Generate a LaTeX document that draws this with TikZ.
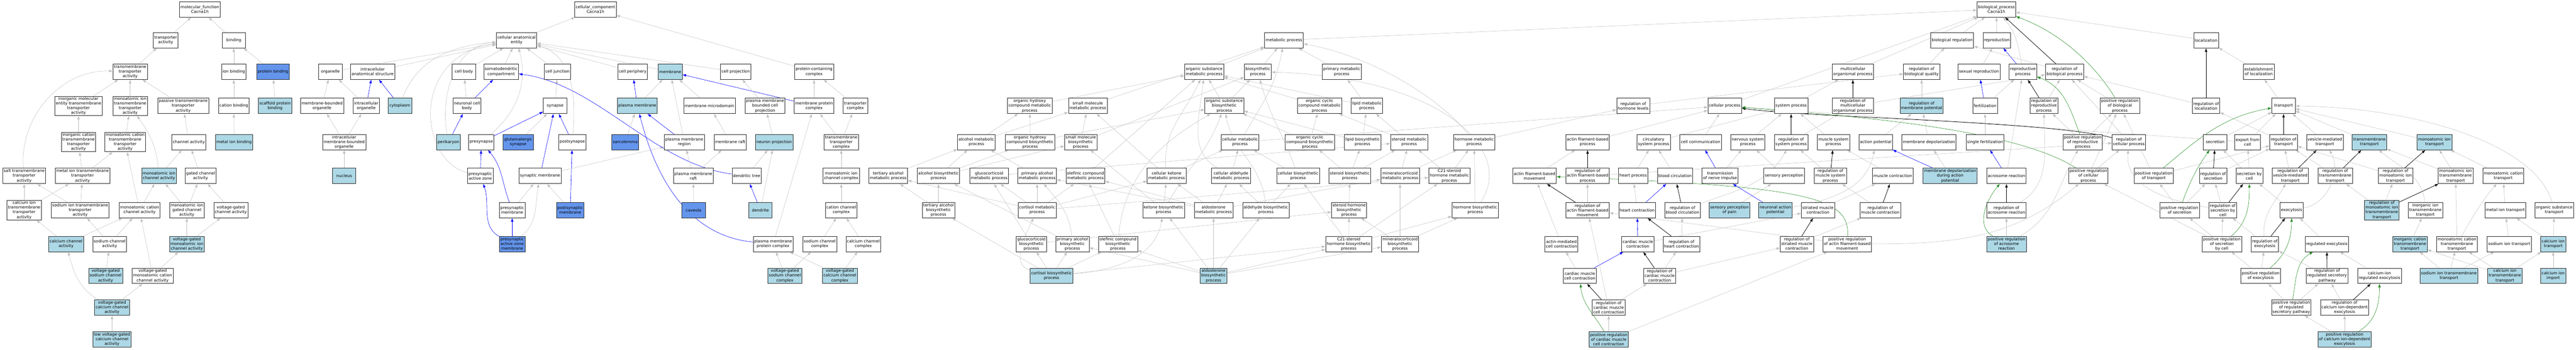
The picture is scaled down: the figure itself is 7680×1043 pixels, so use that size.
\documentclass[tikz,border=0pt]{standalone}
\usepackage{fontspec}
\setmainfont{DejaVu Sans}
\usepackage{tikz}
\usetikzlibrary{arrows.meta,backgrounds}
\definecolor{hitblue}{rgb}{0.678, 0.847, 0.902}
\definecolor{seedblue}{rgb}{0.392, 0.584, 0.929}
\definecolor{isagray}{rgb}{0.75, 0.75, 0.75}
\definecolor{posgreen}{rgb}{0.133, 0.545, 0.133}
\tikzstyle{term}=[draw=black!85, line width=1pt, rectangle, fill=white, align=center, font=\fontsize{12}{14}\selectfont, minimum width=70pt, minimum height=46pt, inner xsep=3pt, inner ysep=2pt]
\tikzstyle{hit}=[term, fill=hitblue]
\tikzstyle{seed}=[term, fill=seedblue]
\tikzstyle{isa}=[isagray, line width=0.8pt, -{Latex[length=11pt,width=8pt]}]
\tikzstyle{partof}=[blue, line width=0.9pt, -{Latex[length=11pt,width=8pt]}]
\tikzstyle{regs}=[black, line width=1.2pt, -{Latex[length=11pt,width=8pt]}]
\tikzstyle{posreg}=[posgreen, line width=0.9pt, -{Latex[length=11pt,width=8pt]}]
\begin{document}
\begin{tikzpicture}[x=1pt,y=-1pt]
\useasboundingbox (0,0) rectangle (7680,1043);
\node[term] (mf) at (596,28) {molecular\_function\\Cacna1h};
\node[term] (tpa) at (494,120) {transporter\\activity};
\node[term] (bind) at (697,120) {binding};
\node[term] (tmta) at (388,214) {transmembrane\\transporter\\activity};
\node[term] (ionb) at (697,214) {ion binding};
\node[seed] (protb) at (814,214) {protein binding};
\node[term] (imeta) at (234,316) {inorganic molecular\\entity transmembrane\\transporter\\activity};
\node[term] (mita) at (388,316) {monoatomic ion\\transmembrane\\transporter\\activity};
\node[term] (pta) at (546,316) {passive transmembrane\\transporter\\activity};
\node[term] (catb) at (697,316) {cation binding};
\node[hit] (scafb) at (820,316) {scaffold protein\\binding};
\node[term] (icta) at (234,424) {inorganic cation\\transmembrane\\transporter\\activity};
\node[term] (mcta) at (373,424) {monoatomic cation\\transmembrane\\transporter\\activity};
\node[term] (chan) at (563,424) {channel activity};
\node[hit] (metb) at (698,424) {metal ion binding};
\node[term] (salt) at (72,525) {salt transmembrane\\transporter\\activity};
\node[term] (metta) at (246,525) {metal ion transmembrane\\transporter\\activity};
\node[hit] (mich) at (474,525) {monoatomic ion\\channel activity};
\node[term] (gated) at (598,525) {gated channel\\activity};
\node[term] (cata) at (72,627) {calcium ion\\transmembrane\\transporter\\activity};
\node[term] (sota) at (239,627) {sodium ion transmembrane\\transporter\\activity};
\node[term] (mcch) at (416,627) {monoatomic cation\\channel activity};
\node[term] (migch) at (557,627) {monoatomic ion\\gated channel\\activity};
\node[term] (vgch) at (688,627) {voltage-gated\\channel activity};
\node[hit] (cach) at (197,728) {calcium channel\\activity};
\node[term] (soch) at (327,728) {sodium channel\\activity};
\node[hit] (vgmich) at (557,728) {voltage-gated\\monoatomic ion\\channel activity};
\node[hit] (vgsoch) at (315,823) {voltage-gated\\sodium channel\\activity};
\node[term] (vgmcch) at (455,823) {voltage-gated\\monoatomic cation\\channel activity};
\node[hit] (vgcach) at (334,918) {voltage-gated\\calcium channel\\activity};
\node[hit] (lvgcach) at (334,1013) {low voltage-gated\\calcium channel\\activity};
\node[term] (cc) at (1775,28) {cellular\_component\\Cacna1h};
\node[term] (cae) at (1540,120) {cellular anatomical\\entity};
\node[term] (organelle) at (985,214) {organelle};
\node[term] (ias) at (1111,214) {intracellular\\anatomical structure};
\node[term] (cbody) at (1383,214) {cell body};
\node[term] (somato) at (1494,214) {somatodendritic\\compartment};
\node[term] (cjunc) at (1662,214) {cell junction};
\node[term] (cperi) at (1886,214) {cell periphery};
\node[hit] (memb) at (1998,214) {membrane};
\node[term] (cproj) at (2193,214) {cell projection};
\node[term] (pcc) at (2427,214) {protein-containing\\complex};
\node[term] (mbo) at (960,316) {membrane-bounded\\organelle};
\node[term] (iorg) at (1092,316) {intracellular\\organelle};
\node[hit] (cyto) at (1192,316) {cytoplasm};
\node[term] (ncb) at (1392,316) {neuronal cell\\body};
\node[term] (syn) at (1655,316) {synapse};
\node[hit] (pm) at (1900,316) {plasma membrane};
\node[term] (mmd) at (2115,316) {membrane microdomain};
\node[term] (pmbcp) at (2281,316) {plasma membrane\\bounded cell\\projection};
\node[term] (mpc) at (2427,316) {membrane protein\\complex};
\node[term] (tpc) at (2550,316) {transporter\\complex};
\node[term] (imbo) at (1026,424) {intracellular\\membrane-bounded\\organelle};
\node[hit] (peri) at (1337,424) {perikaryon};
\node[term] (presyn) at (1435,424) {presynapse};
\node[seed] (gsyn) at (1545,424) {glutamatergic\\synapse};
\node[term] (postsyn) at (1706,424) {postsynapse};
\node[seed] (sarco) at (1864,424) {sarcolemma};
\node[term] (pmr) at (2040,424) {plasma membrane\\region};
\node[term] (raft) at (2177,424) {membrane raft};
\node[hit] (nproj) at (2308,424) {neuron projection};
\node[term] (tmtc) at (2508,424) {transmembrane\\transporter\\complex};
\node[hit] (nucleus) at (1026,525) {nucleus};
\node[term] (paz) at (1432,525) {presynaptic\\active zone};
\node[term] (synm) at (1610,525) {synaptic membrane};
\node[term] (pmraft) at (2067,525) {plasma membrane\\raft};
\node[term] (dtree) at (2226,525) {dendritic tree};
\node[term] (micc) at (2508,525) {monoatomic ion\\channel complex};
\node[term] (prem) at (1527,627) {presynaptic\\membrane};
\node[seed] (postm) at (1700,627) {postsynaptic\\membrane};
\node[seed] (caveola) at (2068,627) {caveola};
\node[hit] (dendrite) at (2267,627) {dendrite};
\node[term] (ccc) at (2508,627) {cation channel\\complex};
\node[seed] (pazm) at (1527,728) {presynaptic\\active zone\\membrane};
\node[term] (pmpc) at (2305,728) {plasma membrane\\protein complex};
\node[term] (socc) at (2444,728) {sodium channel\\complex};
\node[term] (cacc) at (2574,728) {calcium channel\\complex};
\node[hit] (vgsocc) at (2340,823) {voltage-gated\\sodium channel\\complex};
\node[hit] (vgcacc) at (2504,823) {voltage-gated\\calcium channel\\complex};
\node[term] (bp) at (5952,28) {biological\_process\\Cacna1h};
\node[term] (metab) at (3828,120) {metabolic process};
\node[term] (breg) at (5820,120) {biological regulation};
\node[term] (repro) at (5953,120) {reproduction};
\node[term] (loc) at (6577,120) {localization};
\node[term] (osmp) at (3590,214) {organic substance\\metabolic process};
\node[term] (bsp) at (3750,214) {biosynthetic\\process};
\node[term] (pmp) at (4000,214) {primary metabolic\\process};
\node[term] (mop) at (5524,214) {multicellular\\organismal process};
\node[term] (rbq) at (5729,214) {regulation of\\biological quality};
\node[term] (sexrep) at (5900,214) {sexual reproduction};
\node[term] (rproc) at (6031,214) {reproductive\\process};
\node[term] (rbp) at (6155,214) {regulation of\\biological process};
\node[term] (estloc) at (6734,214) {establishment\\of localization};
\node[term] (ohcmp) at (3070,316) {organic hydroxy\\compound metabolic\\process};
\node[term] (smmp) at (3243,316) {small molecule\\metabolic process};
\node[term] (osbp) at (3650,316) {organic substance\\biosynthetic\\process};
\node[term] (occmp) at (3934,316) {organic cyclic\\compound metabolic\\process};
\node[term] (lipmp) at (4075,316) {lipid metabolic\\process};
\node[term] (rhl) at (4869,316) {regulation of\\hormone levels};
\node[term] (cellp) at (5142,316) {cellular process};
\node[term] (sysp) at (5340,316) {system process};
\node[term] (rmop) at (5524,316) {regulation of\\multicellular\\organismal process};
\node[hit] (rmp) at (5729,316) {regulation of\\membrane potential};
\node[term] (fert) at (5918,316) {fertilization};
\node[term] (rrp) at (6094,316) {regulation of\\reproductive\\process};
\node[term] (prbp) at (6320,316) {positive regulation\\of biological\\process};
\node[term] (rloc) at (6577,316) {regulation of\\localization};
\node[term] (transport) at (6808,316) {transport};
\node[term] (almp) at (2911,424) {alcohol metabolic\\process};
\node[term] (ohcbp) at (3071,424) {organic hydroxy\\compound biosynthetic\\process};
\node[term] (smbp) at (3222,424) {small molecule\\biosynthetic\\process};
\node[term] (cmp) at (3697,424) {cellular metabolic\\process};
\node[term] (occbp) at (3905,424) {organic cyclic\\compound biosynthetic\\process};
\node[term] (lipbp) at (4062,424) {lipid biosynthetic\\process};
\node[term] (stmp) at (4201,424) {steroid metabolic\\process};
\node[term] (hmp) at (4395,424) {hormone metabolic\\process};
\node[term] (afbp) at (4733,424) {actin filament-based\\process};
\node[term] (csp) at (4930,424) {circulatory\\system process};
\node[term] (ccomm) at (5070,424) {cell communication};
\node[term] (nsp) at (5211,424) {nervous system\\process};
\node[term] (rsp) at (5340,424) {regulation of\\system process};
\node[term] (msp) at (5466,424) {muscle system\\process};
\node[term] (ap) at (5592,424) {action potential};
\node[term] (mdep) at (5751,424) {membrane depolarization};
\node[term] (sfert) at (5918,424) {single fertilization};
\node[term] (prrp) at (6209,424) {positive regulation\\of reproductive\\process};
\node[term] (rcp) at (6347,424) {regulation of\\cellular process};
\node[term] (secretion) at (6604,424) {secretion};
\node[term] (efc) at (6701,424) {export from\\cell};
\node[term] (rtr) at (6808,424) {regulation of\\transport};
\node[term] (vmt) at (6931,424) {vesicle-mediated\\transport};
\node[hit] (tmt) at (7064,424) {transmembrane\\transport};
\node[hit] (mit) at (7258,424) {monoatomic ion\\transport};
\node[term] (tamp) at (2648,525) {tertiary alcohol\\metabolic process};
\node[term] (albp) at (2798,525) {alcohol biosynthetic\\process};
\node[term] (gcmp) at (2949,525) {glucocorticoid\\metabolic process};
\node[term] (pamp) at (3092,525) {primary alcohol\\metabolic process};
\node[term] (olmp) at (3236,525) {olefinic compound\\metabolic process};
\node[term] (ckmp) at (3478,525) {cellular ketone\\metabolic process};
\node[term] (camp) at (3670,525) {cellular aldehyde\\metabolic process};
\node[term] (cbp) at (3870,525) {cellular biosynthetic\\process};
\node[term] (stbp) at (4024,525) {steroid biosynthetic\\process};
\node[term] (mcmp) at (4174,525) {mineralocorticoid\\metabolic process};
\node[term] (c21mp) at (4321,525) {C21-steroid\\hormone metabolic\\process};
\node[term] (afbm) at (4575,525) {actin filament-based\\movement};
\node[term] (rafbp) at (4733,525) {regulation of\\actin filament-based\\process};
\node[term] (hproc) at (4869,525) {heart process};
\node[term] (bcirc) at (4994,525) {blood circulation};
\node[term] (tni) at (5128,525) {transmission\\of nerve impulse};
\node[term] (sperc) at (5319,525) {sensory perception};
\node[term] (rmsp) at (5457,525) {regulation of\\muscle system\\process};
\node[term] (mcon) at (5643,525) {muscle contraction};
\node[hit] (mdap) at (5814,525) {membrane depolarization\\during action\\potential};
\node[term] (acro) at (5982,525) {acrosome reaction};
\node[term] (prcp) at (6226,525) {positive regulation\\of cellular\\process};
\node[term] (prtr) at (6421,525) {positive regulation\\of transport};
\node[term] (rsec) at (6598,525) {regulation of\\secretion};
\node[term] (sbc) at (6706,525) {secretion by\\cell};
\node[term] (rvmt) at (6828,525) {regulation of\\vesicle-mediated\\transport};
\node[term] (rtmt) at (6962,525) {regulation of\\transmembrane\\transport};
\node[term] (rmit) at (7142,525) {regulation of\\monoatomic ion\\transport};
\node[term] (mitt) at (7321,525) {monoatomic ion\\transmembrane\\transport};
\node[term] (mct) at (7463,525) {monoatomic cation\\transport};
\node[term] (tabp) at (2798,627) {tertiary alcohol\\biosynthetic\\process};
\node[term] (cormp) at (3092,627) {cortisol metabolic\\process};
\node[term] (kbp) at (3469,627) {ketone biosynthetic\\process};
\node[term] (aldmp) at (3618,627) {aldosterone\\metabolic process};
\node[term] (adbp) at (3774,627) {aldehyde biosynthetic\\process};
\node[term] (shbp) at (4022,627) {steroid hormone\\biosynthetic\\process};
\node[term] (hbp) at (4398,627) {hormone biosynthetic\\process};
\node[term] (rafbm) at (4733,627) {regulation of\\actin filament-based\\movement};
\node[term] (hcon) at (4881,627) {heart contraction};
\node[term] (rbc) at (5016,627) {regulation of\\blood circulation};
\node[hit] (spp) at (5156,627) {sensory perception\\of pain};
\node[hit] (nap) at (5293,627) {neuronal action\\potential};
\node[term] (smc) at (5420,627) {striated muscle\\contraction};
\node[term] (rmc) at (5606,627) {regulation of\\muscle contraction};
\node[term] (racro) at (5982,627) {regulation of\\acrosome reaction};
\node[term] (prsec) at (6498,627) {positive regulation\\of secretion};
\node[term] (rsbc) at (6627,627) {regulation of\\secretion by\\cell};
\node[term] (exo) at (6832,627) {exocytosis};
\node[hit] (rmitt) at (7101,627) {regulation of\\monoatomic ion\\transmembrane\\transport};
\node[term] (iitt) at (7231,627) {inorganic ion\\transmembrane\\transport};
\node[term] (mett) at (7469,627) {metal ion transport};
\node[term] (ost) at (7615,627) {organic substance\\transport};
\node[term] (gcbp) at (3075,728) {glucocorticoid\\biosynthetic\\process};
\node[term] (pabp) at (3197,728) {primary alcohol\\biosynthetic\\process};
\node[term] (olbp) at (3333,728) {olefinic compound\\biosynthetic\\process};
\node[term] (c21bp) at (4021,728) {C21-steroid\\hormone biosynthetic\\process};
\node[term] (mcbp) at (4174,728) {mineralocorticoid\\biosynthetic\\process};
\node[term] (amcc) at (4655,728) {actin-mediated\\cell contraction};
\node[term] (cmc) at (4883,728) {cardiac muscle\\contraction};
\node[term] (rhc) at (5013,728) {regulation of\\heart contraction};
\node[term] (rsmc) at (5357,728) {regulation of\\striated muscle\\contraction};
\node[term] (prafbm) at (5507,728) {positive regulation\\of actin filament-based\\movement};
\node[hit] (pracro) at (5982,728) {positive regulation\\of acrosome\\reaction};
\node[term] (prsbc) at (6624,728) {positive regulation\\of secretion\\by cell};
\node[term] (rexo) at (6752,728) {regulation of\\exocytosis};
\node[term] (regexo) at (6937,728) {regulated exocytosis};
\node[hit] (ictt) at (7185,728) {inorganic cation\\transmembrane\\transport};
\node[term] (mctt) at (7325,728) {monoatomic cation\\transmembrane\\transport};
\node[term] (sit) at (7481,728) {sodium ion transport};
\node[hit] (cait) at (7612,728) {calcium ion\\transport};
\node[hit] (corbp) at (3135,823) {cortisol biosynthetic\\process};
\node[hit] (aldbp) at (3618,823) {aldosterone\\biosynthetic\\process};
\node[term] (cmcc) at (4710,823) {cardiac muscle\\cell contraction};
\node[term] (rcmc) at (4948,823) {regulation of\\cardiac muscle\\contraction};
\node[term] (prexo) at (6740,823) {positive regulation\\of exocytosis};
\node[term] (rrsp) at (6938,823) {regulation of\\regulated secretory\\pathway};
\node[term] (cire) at (7094,823) {calcium-ion\\regulated exocytosis};
\node[hit] (sitt) at (7301,823) {sodium ion transmembrane\\transport};
\node[hit] (citt) at (7468,823) {calcium ion\\transmembrane\\transport};
\node[hit] (ciimp) at (7612,823) {calcium ion\\import};
\node[term] (rcmcc) at (4796,918) {regulation of\\cardiac muscle\\cell contraction};
\node[term] (prrsp) at (6831,918) {positive regulation\\of regulated\\secretory pathway};
\node[term] (rcide) at (6990,918) {regulation of\\calcium ion-dependent\\exocytosis};
\node[hit] (prcmcc) at (4796,1013) {positive regulation\\of cardiac muscle\\cell contraction};
\node[hit] (prcide) at (6990,1013) {positive regulation\\of calcium ion-dependent\\exocytosis};
\begin{pgfonlayer}{background}
\draw[isa] (tpa) -- (mf);
\draw[isa] (bind) -- (mf);
\draw[isa] (tmta) -- (tpa);
\draw[isa] (imeta) -- (tmta);
\draw[isa] (mita) -- (tmta);
\draw[isa] (pta) -- (tmta);
\draw[isa] (salt) to[out=95,in=178] (tmta);
\draw[isa] (icta) -- (imeta);
\draw[isa] (mcta) -- (mita);
\draw[isa] (chan) -- (pta);
\draw[isa] (mich) to[out=95,in=-55] (mita);
\draw[isa] (mich) -- (chan);
\draw[isa] (gated) -- (chan);
\draw[isa] (metta) -- (icta);
\draw[isa] (metta) -- (mcta);
\draw[isa] (cata) -- (salt);
\draw[isa] (cata) -- (metta);
\draw[isa] (sota) -- (salt);
\draw[isa] (sota) -- (metta);
\draw[isa] (mcch) -- (mcta);
\draw[isa] (mcch) -- (mich);
\draw[isa] (migch) -- (mich);
\draw[isa] (migch) -- (gated);
\draw[isa] (vgch) -- (gated);
\draw[isa] (cach) -- (cata);
\draw[isa] (cach) -- (mcch);
\draw[isa] (soch) -- (sota);
\draw[isa] (soch) -- (mcch);
\draw[isa] (vgmich) -- (migch);
\draw[isa] (vgmich) -- (vgch);
\draw[isa] (vgsoch) -- (soch);
\draw[isa] (vgmcch) -- (mcch);
\draw[isa] (vgmcch) -- (vgmich);
\draw[isa] (vgcach) to[out=150,in=-75] (cach);
\draw[isa] (vgcach) -- (vgmcch);
\draw[isa] (lvgcach) -- (vgcach);
\draw[isa] (ionb) -- (bind);
\draw[isa] (protb) -- (bind);
\draw[isa] (catb) -- (ionb);
\draw[isa] (scafb) -- (protb);
\draw[isa] (metb) -- (catb);
\draw[isa] (cae) -- (cc);
\draw[isa] (pcc) -- (cc);
\draw[isa] (organelle) -- (cae);
\draw[isa] (ias) -- (cae);
\draw[isa] (cyto) to[out=70,in=185] (cae);
\draw[isa] (cbody) -- (cae);
\draw[isa] (somato) -- (cae);
\draw[isa] (cjunc) -- (cae);
\draw[isa] (cperi) -- (cae);
\draw[isa] (memb) -- (cae);
\draw[isa] (cproj) -- (cae);
\draw[isa] (postsyn) to[out=85,in=-15] (cae);
\draw[isa] (presyn) to[out=40,in=-75] (cae);
\draw[isa] (peri) to[out=100,in=185] (cae);
\draw[isa] (paz) .. controls (1250,480) and (1220,170) .. (cae);
\draw[isa] (mbo) -- (organelle);
\draw[isa] (iorg) -- (organelle);
\draw[partof] (iorg) -- (ias);
\draw[partof] (cyto) -- (ias);
\draw[isa] (imbo) -- (mbo);
\draw[isa] (imbo) -- (iorg);
\draw[isa] (nucleus) -- (imbo);
\draw[isa] (ncb) -- (cbody);
\draw[partof] (ncb) -- (somato);
\draw[partof] (peri) -- (ncb);
\draw[isa] (syn) -- (cjunc);
\draw[partof] (presyn) -- (syn);
\draw[isa] (gsyn) -- (syn);
\draw[partof] (postsyn) -- (syn);
\draw[partof] (synm) -- (syn);
\draw[partof] (paz) -- (presyn);
\draw[partof] (prem) to[out=110,in=-50] (presyn);
\draw[isa] (prem) -- (synm);
\draw[isa] (postm) -- (synm);
\draw[partof] (postm) -- (postsyn);
\draw[partof] (pazm) to[out=150,in=-70] (paz);
\draw[partof] (pazm) -- (prem);
\draw[isa] (pazm) to[out=40,in=-100] (synm);
\draw[isa] (synm) -- (pmr);
\draw[partof] (dtree) .. controls (1950,490) and (1780,250) .. (somato);
\draw[partof] (pm) -- (cperi);
\draw[isa] (sarco) -- (pm);
\draw[partof] (pmpc) .. controls (2010,700) and (1935,450) .. (pm);
\draw[isa] (pm) -- (memb);
\draw[isa] (pmr) -- (memb);
\draw[isa] (mmd) -- (memb);
\draw[partof] (mpc) -- (memb);
\draw[isa] (mpc) -- (pcc);
\draw[isa] (tpc) -- (pcc);
\draw[isa] (pmbcp) -- (cproj);
\draw[partof] (pmr) -- (pm);
\draw[isa] (raft) -- (mmd);
\draw[isa] (nproj) -- (pmbcp);
\draw[isa] (tmtc) -- (mpc);
\draw[isa] (tmtc) -- (tpc);
\draw[isa] (pmraft) -- (pmr);
\draw[isa] (pmraft) -- (raft);
\draw[isa] (dtree) -- (nproj);
\draw[isa] (micc) -- (tmtc);
\draw[isa] (caveola) -- (pmraft);
\draw[partof] (dendrite) -- (dtree);
\draw[isa] (dendrite) -- (nproj);
\draw[isa] (ccc) -- (micc);
\draw[isa] (pmpc) -- (mpc);
\draw[isa] (socc) -- (ccc);
\draw[isa] (cacc) -- (ccc);
\draw[isa] (vgsocc) -- (pmpc);
\draw[isa] (vgsocc) -- (socc);
\draw[isa] (vgcacc) -- (pmpc);
\draw[isa] (vgcacc) -- (cacc);
\draw[isa] (metab) -- (bp);
\draw[isa] (osmp) -- (metab);
\draw[isa] (bsp) -- (metab);
\draw[isa] (smmp) -- (metab);
\draw[isa] (cmp) to[out=60,in=-100] (metab);
\draw[isa] (pmp) -- (metab);
\draw[isa] (hmp) .. controls (4300,300) and (4100,170) .. (metab);
\draw[isa] (ohcmp) -- (osmp);
\draw[isa] (almp) -- (ohcmp);
\draw[isa] (almp) -- (smmp);
\draw[isa] (ohcbp) -- (ohcmp);
\draw[isa] (ohcbp) -- (osbp);
\draw[isa] (smbp) -- (smmp);
\draw[isa] (smbp) -- (bsp);
\draw[isa] (tamp) -- (almp);
\draw[isa] (albp) -- (almp);
\draw[isa] (albp) -- (ohcbp);
\draw[isa] (albp) -- (smbp);
\draw[isa] (pamp) -- (almp);
\draw[isa] (gcmp) -- (stmp);
\draw[isa] (tabp) -- (tamp);
\draw[isa] (tabp) -- (albp);
\draw[isa] (cormp) -- (tamp);
\draw[isa] (cormp) -- (gcmp);
\draw[isa] (cormp) -- (pamp);
\draw[isa] (cormp) -- (olmp);
\draw[isa] (cormp) -- (ckmp);
\draw[isa] (cormp) -- (c21mp);
\draw[isa] (gcbp) -- (gcmp);
\draw[isa] (gcbp) -- (shbp);
\draw[isa] (pabp) -- (albp);
\draw[isa] (pabp) to[out=95,in=-50] (pamp);
\draw[isa] (corbp) -- (tabp);
\draw[isa] (corbp) to[out=165,in=-115] (cormp);
\draw[isa] (corbp) -- (gcbp);
\draw[isa] (corbp) -- (pabp);
\draw[isa] (corbp) -- (olbp);
\draw[isa] (corbp) to[out=5,in=-100] (kbp);
\draw[isa] (corbp) -- (c21bp);
\draw[isa] (osbp) -- (osmp);
\draw[isa] (osbp) -- (bsp);
\draw[isa] (cmp) -- (cellp);
\draw[isa] (ckmp) to[out=95,in=-115] (osmp);
\draw[isa] (ckmp) -- (smmp);
\draw[isa] (ckmp) -- (cmp);
\draw[isa] (camp) to[out=150,in=-95] (osmp);
\draw[isa] (camp) -- (cmp);
\draw[isa] (olmp) -- (osmp);
\draw[isa] (cbp) to[out=110,in=-75] (bsp);
\draw[isa] (cbp) -- (cmp);
\draw[isa] (kbp) -- (ckmp);
\draw[isa] (kbp) -- (smbp);
\draw[isa] (kbp) to[out=60,in=-110] (osbp);
\draw[isa] (aldmp) -- (ckmp);
\draw[isa] (aldmp) -- (camp);
\draw[isa] (aldmp) -- (olmp);
\draw[isa] (aldmp) -- (pamp);
\draw[isa] (aldmp) -- (mcmp);
\draw[isa] (adbp) -- (camp);
\draw[isa] (adbp) to[out=95,in=-80] (osbp);
\draw[isa] (adbp) -- (cbp);
\draw[isa] (olbp) -- (olmp);
\draw[isa] (olbp) to[out=85,in=-150] (osbp);
\draw[isa] (aldbp) -- (aldmp);
\draw[isa] (aldbp) -- (kbp);
\draw[isa] (aldbp) -- (adbp);
\draw[isa] (aldbp) -- (olbp);
\draw[isa] (aldbp) -- (pabp);
\draw[isa] (aldbp) -- (c21bp);
\draw[isa] (aldbp) -- (mcbp);
\draw[isa] (lipmp) -- (pmp);
\draw[isa] (lipmp) -- (osmp);
\draw[isa] (occmp) -- (osmp);
\draw[isa] (lipbp) -- (lipmp);
\draw[isa] (lipbp) -- (osbp);
\draw[isa] (occbp) -- (occmp);
\draw[isa] (occbp) -- (osbp);
\draw[isa] (stmp) -- (lipmp);
\draw[isa] (stmp) -- (occmp);
\draw[isa] (stbp) -- (occbp);
\draw[isa] (stbp) -- (lipbp);
\draw[isa] (stbp) -- (stmp);
\draw[isa] (mcmp) -- (stmp);
\draw[isa] (mcmp) -- (hmp);
\draw[isa] (c21mp) -- (stmp);
\draw[isa] (c21mp) -- (hmp);
\draw[isa] (hbp) -- (hmp);
\draw[isa] (hbp) .. controls (4520,450) and (4300,230) .. (bsp);
\draw[isa] (hmp) -- (rhl);
\draw[isa] (shbp) -- (stbp);
\draw[isa] (c21bp) -- (shbp);
\draw[isa] (c21bp) -- (c21mp);
\draw[isa] (c21bp) -- (hbp);
\draw[isa] (c21bp) -- (cbp);
\draw[isa] (mcbp) -- (shbp);
\draw[isa] (mcbp) -- (mcmp);
\draw[isa] (mcbp) -- (hbp);
\draw[isa] (afbp) -- (cellp);
\draw[isa] (ccomm) -- (cellp);
\draw[isa] (efc) -- (cellp);
\draw[isa] (afbm) -- (afbp);
\draw[regs] (rafbp) -- (afbp);
\draw[isa] (rafbp) -- (rcp);
\draw[isa] (csp) -- (sysp);
\draw[isa] (hproc) -- (csp);
\draw[isa] (bcirc) -- (csp);
\draw[partof] (tni) -- (ccomm);
\draw[isa] (tni) -- (nsp);
\draw[regs] (rafbm) -- (afbm);
\draw[isa] (rafbm) -- (rafbp);
\draw[isa] (hcon) -- (hproc);
\draw[partof] (hcon) -- (bcirc);
\draw[regs] (rbc) -- (bcirc);
\draw[isa] (rbc) to[out=20,in=-120] (rsp);
\draw[isa] (spp) -- (sperc);
\draw[isa] (amcc) -- (afbm);
\draw[partof] (cmc) -- (hcon);
\draw[isa] (cmc) -- (smc);
\draw[regs] (rhc) -- (hcon);
\draw[isa] (rhc) -- (rbc);
\draw[isa] (cmcc) -- (amcc);
\draw[partof] (cmcc) -- (cmc);
\draw[regs] (rcmc) -- (cmc);
\draw[isa] (rcmc) -- (rhc);
\draw[isa] (rcmc) -- (rsmc);
\draw[regs] (rcmcc) -- (cmcc);
\draw[isa] (rcmcc) -- (rcmc);
\draw[isa] (rcmcc) -- (rafbm);
\draw[posreg] (prcmcc) to[out=120,in=-85] (cmcc);
\draw[isa] (prcmcc) -- (rcmcc);
\draw[isa] (prcmcc) -- (prafbm);
\draw[posreg] (prafbm) .. controls (5515,590) and (5400,556) .. (afbm);
\draw[isa] (prafbm) -- (rafbm);
\draw[isa] (prafbm) to[out=0,in=-140] (prcp);
\draw[isa] (rhl) -- (rbq);
\draw[isa] (mop) -- (bp);
\draw[isa] (rbq) -- (breg);
\draw[isa] (breg) -- (bp);
\draw[isa] (cellp) -- (bp);
\draw[isa] (sysp) -- (mop);
\draw[regs] (rmop) -- (mop);
\draw[isa] (rmop) -- (rbp);
\draw[isa] (rmp) -- (rbq);
\draw[isa] (nsp) -- (sysp);
\draw[regs] (rsp) -- (sysp);
\draw[isa] (rsp) -- (rmop);
\draw[isa] (msp) -- (sysp);
\draw[isa] (ap) -- (rmp);
\draw[isa] (mdep) -- (rmp);
\draw[isa] (sperc) -- (nsp);
\draw[regs] (rmsp) -- (msp);
\draw[isa] (rmsp) -- (rsp);
\draw[isa] (mcon) -- (msp);
\draw[partof] (mdap) -- (ap);
\draw[isa] (mdap) -- (mdep);
\draw[partof] (nap) -- (tni);
\draw[isa] (nap) to[out=10,in=-100] (ap);
\draw[isa] (smc) -- (mcon);
\draw[regs] (rmc) -- (mcon);
\draw[isa] (rmc) -- (rmsp);
\draw[regs] (rsmc) -- (smc);
\draw[isa] (rsmc) -- (rmc);
\draw[isa] (repro) -- (bp);
\draw[isa] (rproc) to[out=100,in=-50] (bp);
\draw[partof] (rproc) -- (repro);
\draw[regs] (rbp) -- (bp);
\draw[isa] (rbp) -- (breg);
\draw[posreg] (prbp) .. controls (6250,200) and (6150,100) .. (bp);
\draw[isa] (loc) -- (bp);
\draw[isa] (sexrep) -- (repro);
\draw[partof] (fert) -- (sexrep);
\draw[isa] (fert) -- (rproc);
\draw[regs] (rrp) -- (rproc);
\draw[isa] (rrp) -- (rbp);
\draw[isa] (prbp) -- (rbp);
\draw[isa] (rloc) -- (rbp);
\draw[isa] (sfert) -- (fert);
\draw[partof] (acro) -- (sfert);
\draw[isa] (acro) -- (rproc);
\draw[isa] (prrp) -- (rrp);
\draw[isa] (prrp) -- (prbp);
\draw[posreg] (prrp) to[out=110,in=-20] (rproc);
\draw[isa] (rcp) -- (rbp);
\draw[regs] (rcp) .. controls (6100,360) and (5400,352) .. (cellp);
\draw[isa] (prcp) -- (rcp);
\draw[isa] (prcp) -- (prbp);
\draw[posreg] (prcp) .. controls (6000,380) and (5500,345) .. (cellp);
\draw[isa] (prtr) -- (prbp);
\draw[regs] (racro) -- (acro);
\draw[isa] (racro) to[out=30,in=-90] (rrp);
\draw[isa] (pracro) -- (racro);
\draw[posreg] (pracro) to[out=150,in=-130] (acro);
\draw[isa] (pracro) to[out=30,in=-120] (prrp);
\draw[isa] (estloc) -- (loc);
\draw[regs] (rloc) -- (loc);
\draw[isa] (transport) -- (estloc);
\draw[isa] (secretion) -- (transport);
\draw[isa] (efc) -- (transport);
\draw[regs] (rtr) -- (transport);
\draw[isa] (rtr) -- (rloc);
\draw[isa] (vmt) -- (transport);
\draw[isa] (tmt) -- (transport);
\draw[isa] (mit) -- (transport);
\draw[isa] (ost) .. controls (7560,430) and (7200,320) .. (transport);
\draw[posreg] (prtr) to[out=40,in=-170] (transport);
\draw[isa] (prtr) -- (rtr);
\draw[regs] (rsec) -- (secretion);
\draw[isa] (rsec) -- (rtr);
\draw[isa] (sbc) -- (secretion);
\draw[isa] (sbc) -- (efc);
\draw[regs] (rvmt) -- (vmt);
\draw[isa] (rvmt) -- (rtr);
\draw[regs] (rtmt) -- (tmt);
\draw[isa] (rtmt) -- (rtr);
\draw[posreg] (prsec) to[out=70,in=-125] (secretion);
\draw[isa] (prsec) -- (rsec);
\draw[isa] (prsec) -- (prtr);
\draw[regs] (rsbc) -- (sbc);
\draw[isa] (rsbc) -- (rsec);
\draw[isa] (rsbc) to[out=170,in=-95] (rcp);
\draw[isa] (exo) -- (sbc);
\draw[isa] (exo) to[out=10,in=-60] (vmt);
\draw[isa] (prsbc) -- (prsec);
\draw[isa] (prsbc) -- (rsbc);
\draw[posreg] (prsbc) to[out=40,in=-90] (sbc);
\draw[isa] (prsbc) -- (prcp);
\draw[regs] (rexo) -- (exo);
\draw[isa] (rexo) -- (rsbc);
\draw[isa] (rexo) to[out=95,in=-120] (rvmt);
\draw[isa] (regexo) -- (exo);
\draw[isa] (prexo) -- (rexo);
\draw[isa] (prexo) -- (prsbc);
\draw[posreg] (prexo) to[out=40,in=-90] (exo);
\draw[regs] (rrsp) -- (regexo);
\draw[isa] (rrsp) -- (rexo);
\draw[isa] (cire) -- (regexo);
\draw[isa] (prrsp) -- (prexo);
\draw[isa] (prrsp) -- (rrsp);
\draw[posreg] (prrsp) to[out=80,in=-150] (regexo);
\draw[isa] (rcide) -- (rrsp);
\draw[regs] (rcide) -- (cire);
\draw[isa] (prcide) -- (prrsp);
\draw[isa] (prcide) -- (rcide);
\draw[posreg] (prcide) to[out=30,in=-90] (cire);
\draw[regs] (rmit) -- (mit);
\draw[isa] (rmit) -- (rtr);
\draw[isa] (mitt) -- (mit);
\draw[isa] (mitt) -- (tmt);
\draw[isa] (mct) -- (mit);
\draw[isa] (rmitt) -- (rmit);
\draw[regs] (rmitt) -- (mitt);
\draw[isa] (rmitt) -- (rtmt);
\draw[isa] (iitt) to[out=95,in=-40] (tmt);
\draw[isa] (mett) -- (mct);
\draw[isa] (ictt) -- (iitt);
\draw[isa] (mctt) -- (mitt);
\draw[isa] (mctt) to[out=60,in=-130] (mct);
\draw[isa] (sit) -- (mett);
\draw[isa] (cait) -- (mett);
\draw[isa] (cait) -- (ost);
\draw[isa] (sitt) -- (ictt);
\draw[isa] (sitt) -- (mctt);
\draw[isa] (sitt) -- (sit);
\draw[isa] (citt) -- (ictt);
\draw[isa] (citt) -- (mctt);
\draw[isa] (citt) -- (cait);
\draw[isa] (ciimp) -- (cait);
\end{pgfonlayer}
\end{tikzpicture}
\end{document}
